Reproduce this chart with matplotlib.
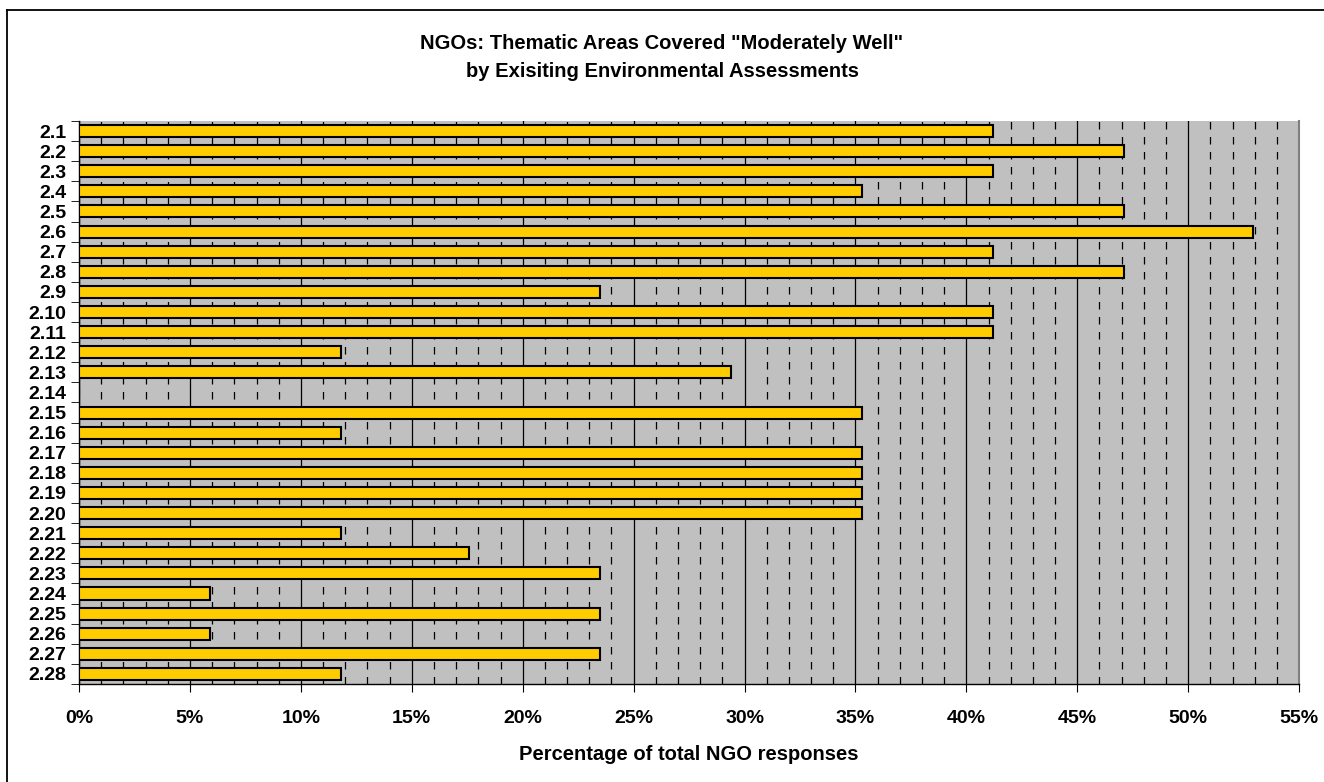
import matplotlib.pyplot as plt
import matplotlib.ticker as mticker
from matplotlib.lines import Line2D
import numpy as np

# data
labels = ["2.1", "2.2", "2.3", "2.4", "2.5", "2.6", "2.7", "2.8", "2.9", "2.10",
          "2.11", "2.12", "2.13", "2.14", "2.15", "2.16", "2.17", "2.18", "2.19", "2.20",
          "2.21", "2.22", "2.23", "2.24", "2.25", "2.26", "2.27", "2.28"]
values = [41.2, 47.1, 41.2, 35.3, 47.1, 52.9, 41.2, 47.1, 23.5, 41.2,
          41.2, 11.8, 29.4, 0.0, 35.3, 11.8, 35.3, 35.3, 35.3, 35.3,
          11.8, 17.6, 23.5, 5.9, 23.5, 5.9, 23.5, 11.8]
xticks = [0, 5, 10, 15, 20, 25, 30, 35, 40, 45, 50, 55]

plt.rcParams['font.family'] = ['Liberation Sans', 'DejaVu Sans']

fig = plt.figure(figsize=(13.24, 7.82), dpi=100)
ax = fig.add_axes([0.0597, 0.1253, 0.9215, 0.7200])

ypos = np.arange(len(labels))
ax.set_facecolor("#c0c0c0")

# grid: dashed minor every 1%, solid major every 5%
ax.set_xlim(0, 55)
ax.set_ylim(len(labels) - 0.5, -0.5)
ax.xaxis.set_major_locator(mticker.FixedLocator(xticks))
ax.xaxis.set_minor_locator(mticker.MultipleLocator(1))
ax.grid(which="minor", axis="x", color="black", linestyle=(0, (6, 6)), linewidth=0.9)
ax.grid(which="major", axis="x", color="black", linestyle="-", linewidth=0.9)
ax.set_axisbelow(True)

ax.barh(ypos, values, height=0.6, color="#ffcc00", edgecolor="black", linewidth=1.5, zorder=3)

ax.set_xticks(xticks)
ax.set_xticklabels([f"{t}%" for t in xticks], fontsize=14, fontweight="bold")
ax.tick_params(axis="x", which="major", length=6, pad=13, direction="out")
ax.tick_params(axis="x", which="minor", length=0)

ax.set_yticks(ypos)
ax.set_yticklabels(labels, fontsize=14, fontweight="bold")
ax.tick_params(axis="y", which="major", length=0, pad=9)
ax.set_yticks(np.arange(len(labels) + 1) - 0.5, minor=True)
ax.tick_params(axis="y", which="minor", length=6, direction="out")

ax.spines["right"].set_color("#808080")
ax.spines["right"].set_linewidth(1.5)
ax.spines["top"].set_visible(False)
for s in ["left", "bottom"]:
    ax.spines[s].set_color("black")
    ax.spines[s].set_linewidth(1.0)

ax.set_xlabel("Percentage of total NGO responses", fontsize=14.5, fontweight="bold", labelpad=13)
fig.text(0.5, 0.944, "NGOs: Thematic Areas Covered \"Moderately Well\"", ha="center", va="center",
         fontsize=14.5, fontweight="bold")
fig.text(0.5, 0.908, "by Exisiting Environmental Assessments", ha="center", va="center",
         fontsize=14.5, fontweight="bold")

# outer frame (left and top edges visible)
fig.add_artist(Line2D([0.0053, 0.0053], [0.0, 0.9872], transform=fig.transFigure,
                      color="black", linewidth=1.3))
fig.add_artist(Line2D([0.0053, 1.0], [0.9872, 0.9872], transform=fig.transFigure,
                      color="black", linewidth=1.3))

fig.savefig("out.png", dpi=100)
